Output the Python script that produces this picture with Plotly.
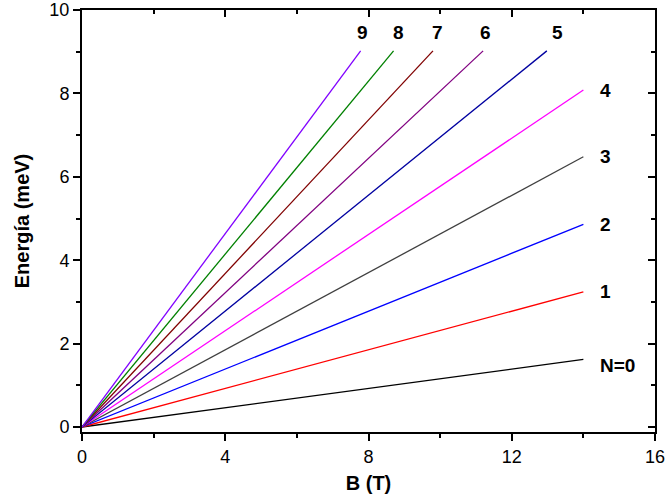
import plotly.graph_objects as go

levels = ["N=0", "1", "2", "3", "4", "5", "6", "7", "8", "9"]
b_end = [14.0, 14.0, 14.0, 14.0, 14.0, 12.98, 11.2, 9.8, 8.7, 7.78]
e_end = [1.62, 3.24, 4.86, 6.48, 8.08, 9.02, 9.02, 9.02, 9.02, 9.02]
colors = ["#000000", "#ff0000", "#0000ff", "#404040", "#ff00ff",
          "#0000a0", "#800080", "#800000", "#008000", "#8000ff"]

label_x = [14.4, 14.4, 14.4, 14.4, 14.4, 13.27, 11.28, 9.92, 8.83, 7.82]
label_y = [1.48, 3.24, 4.86, 6.48, 8.08, 9.45, 9.45, 9.45, 9.45, 9.45]

x_ticks = [0, 4, 8, 12, 16]
y_ticks = [0, 2, 4, 6, 8, 10]
x_minor = [2, 6, 10, 14]
y_minor = [1, 3, 5, 7, 9]

X_RANGE = [0, 16]
Y_RANGE = [-0.12, 10]

FAM = "Liberation Sans, Arial"

fig = go.Figure()
for lab, b, e, c in zip(levels, b_end, e_end, colors):
    fig.add_trace(go.Scatter(x=[0, b], y=[0, e], mode="lines",
                             line=dict(color=c, width=1.3), showlegend=False,
                             hoverinfo="skip"))

for i, lab in enumerate(levels):
    fig.add_annotation(x=label_x[i], y=label_y[i], text=f"<b>{lab}</b>",
                       showarrow=False,
                       xanchor="left" if i <= 4 else "center", yanchor="middle",
                       font=dict(size=19, color="black", family=FAM))

font = dict(family=FAM, size=18, color="black")
tk = dict(showgrid=False, zeroline=False, ticklen=7, tickwidth=1.5, tickcolor="black",
          ticklabeloverflow="allow", showline=True, linecolor="black", linewidth=2)

fig.update_layout(
    width=665, height=502,
    margin=dict(l=82, r=10, t=10, b=70, autoexpand=False),
    plot_bgcolor="white", paper_bgcolor="white",
    font=font,
    xaxis=dict(range=X_RANGE, tickmode="array", tickvals=x_ticks, ticks="outside", mirror=True,
               minor=dict(tickmode="array", tickvals=x_minor, ticks="outside",
                          ticklen=4, tickwidth=1.5, tickcolor="black", showgrid=False),
               title=dict(text="<b>B (T)</b>", font=dict(size=20, family=FAM), standoff=10),
               **tk),
    yaxis=dict(range=Y_RANGE, tickmode="array", tickvals=y_ticks, ticks="outside", mirror=True,
               minor=dict(tickmode="array", tickvals=y_minor, ticks="outside",
                          ticklen=4, tickwidth=1.5, tickcolor="black", showgrid=False),
               title=dict(text="<b>Energía (meV)</b>", font=dict(size=20, family=FAM), standoff=14),
               **tk),
    xaxis2=dict(range=X_RANGE, tickmode="array", tickvals=x_ticks, ticks="inside",
                overlaying="x", side="top", showticklabels=False, anchor="y",
                minor=dict(tickmode="array", tickvals=x_minor, ticks="inside",
                           ticklen=4, tickwidth=1.5, tickcolor="black", showgrid=False),
                **tk),
    yaxis2=dict(range=Y_RANGE, tickmode="array", tickvals=y_ticks, ticks="inside",
                overlaying="y", side="right", showticklabels=False, anchor="x",
                minor=dict(tickmode="array", tickvals=y_minor, ticks="inside",
                           ticklen=4, tickwidth=1.5, tickcolor="black", showgrid=False),
                **tk),
)
fig.add_trace(go.Scatter(x=X_RANGE, y=Y_RANGE, xaxis="x2", yaxis="y2", mode="markers",
                         marker=dict(opacity=0), showlegend=False, hoverinfo="skip"))

fig.write_html("out.html")
